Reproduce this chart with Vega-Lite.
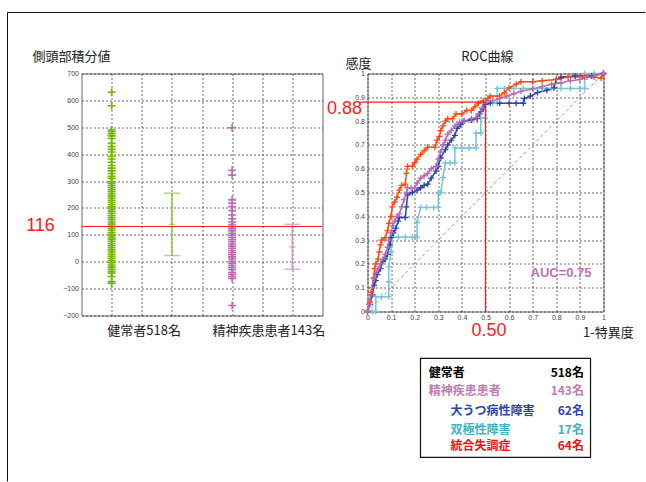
{
  "$schema": "https://vega.github.io/schema/vega-lite/v6.json",
  "padding": {"left": 6.5, "top": 10.5, "right": 0, "bottom": 0},
  "background": "white",
  "spacing": 45,
  "bounds": "flush",
  "resolve": {"scale": {"color": "independent"}},
  "config": {
    "view": {"stroke": "#666", "strokeWidth": 1},
    "axis": {"grid": true, "title": null, "gridColor": "#333", "gridDash": [2, 2], "gridOpacity": 0.9, "gridWidth": 0.8, "labelFont": "Liberation Sans", "labelFontSize": 7, "labelColor": "#444", "domain": false, "ticks": false, "labelPadding": 3, "labelOverlap": false, "labelFlush": false}
  },
  "datasets": {
    "scatter": [
      {"g":"H","x":1,"v":-80},{"g":"H","x":1,"v":-74},{"g":"H","x":1,"v":-55},{"g":"H","x":1,"v":-42},{"g":"H","x":1,"v":-36},{"g":"H","x":1,"v":-28},{"g":"H","x":1,"v":-20},{"g":"H","x":1,"v":-12},{"g":"H","x":1,"v":-4},{"g":"H","x":1,"v":4},{"g":"H","x":1,"v":12},{"g":"H","x":1,"v":20},{"g":"H","x":1,"v":28},{"g":"H","x":1,"v":36},{"g":"H","x":1,"v":44},{"g":"H","x":1,"v":52},{"g":"H","x":1,"v":60},{"g":"H","x":1,"v":68},{"g":"H","x":1,"v":76},{"g":"H","x":1,"v":84},{"g":"H","x":1,"v":92},{"g":"H","x":1,"v":100},{"g":"H","x":1,"v":108},{"g":"H","x":1,"v":116},{"g":"H","x":1,"v":124},{"g":"H","x":1,"v":132},{"g":"H","x":1,"v":140},{"g":"H","x":1,"v":148},{"g":"H","x":1,"v":156},{"g":"H","x":1,"v":164},{"g":"H","x":1,"v":172},{"g":"H","x":1,"v":180},{"g":"H","x":1,"v":188},{"g":"H","x":1,"v":196},{"g":"H","x":1,"v":204},{"g":"H","x":1,"v":212},{"g":"H","x":1,"v":220},{"g":"H","x":1,"v":228},{"g":"H","x":1,"v":236},{"g":"H","x":1,"v":244},{"g":"H","x":1,"v":252},{"g":"H","x":1,"v":260},{"g":"H","x":1,"v":268},{"g":"H","x":1,"v":276},{"g":"H","x":1,"v":284},{"g":"H","x":1,"v":292},{"g":"H","x":1,"v":298},{"g":"H","x":1,"v":310},{"g":"H","x":1,"v":318},{"g":"H","x":1,"v":328},{"g":"H","x":1,"v":338},{"g":"H","x":1,"v":348},{"g":"H","x":1,"v":358},{"g":"H","x":1,"v":370},{"g":"H","x":1,"v":382},{"g":"H","x":1,"v":392},{"g":"H","x":1,"v":408},{"g":"H","x":1,"v":418},{"g":"H","x":1,"v":428},{"g":"H","x":1,"v":440},{"g":"H","x":1,"v":458},{"g":"H","x":1,"v":468},{"g":"H","x":1,"v":476},{"g":"H","x":1,"v":484},{"g":"H","x":1,"v":490},{"g":"H","x":1,"v":580},{"g":"H","x":1,"v":630},
      {"g":"P","x":5,"v":-163},{"g":"P","x":5,"v":-62},{"g":"P","x":5,"v":-55},{"g":"P","x":5,"v":-47},{"g":"P","x":5,"v":-40},{"g":"P","x":5,"v":-30},{"g":"P","x":5,"v":-22},{"g":"P","x":5,"v":-14},{"g":"P","x":5,"v":-6},{"g":"P","x":5,"v":2},{"g":"P","x":5,"v":10},{"g":"P","x":5,"v":18},{"g":"P","x":5,"v":26},{"g":"P","x":5,"v":34},{"g":"P","x":5,"v":42},{"g":"P","x":5,"v":50},{"g":"P","x":5,"v":58},{"g":"P","x":5,"v":66},{"g":"P","x":5,"v":74},{"g":"P","x":5,"v":82},{"g":"P","x":5,"v":90},{"g":"P","x":5,"v":98},{"g":"P","x":5,"v":106},{"g":"P","x":5,"v":114},{"g":"P","x":5,"v":122},{"g":"P","x":5,"v":130},{"g":"P","x":5,"v":138},{"g":"P","x":5,"v":148},{"g":"P","x":5,"v":160},{"g":"P","x":5,"v":174},{"g":"P","x":5,"v":190},{"g":"P","x":5,"v":205},{"g":"P","x":5,"v":218},{"g":"P","x":5,"v":230},{"g":"P","x":5,"v":322},{"g":"P","x":5,"v":340},{"g":"P","x":5,"v":498}
    ],
    "errbars": [
      {"g":"Hb","x":3,"lo":23,"mid":139,"hi":255},
      {"g":"Pb","x":7,"lo":-28,"mid":55,"hi":139}
    ],
    "legend": [
      {"t": "健常者", "n": "518名", "k": "h"},
      {"t": "精神疾患患者", "n": "143名", "k": "p"},
      {"t": "大うつ病性障害", "n": "62名", "k": "d"},
      {"t": "双極性障害", "n": "17名", "k": "b"},
      {"t": "統合失調症", "n": "64名", "k": "s"}
    ],
    "roc": [
      {"s":"C","x":0,"y":0},{"s":"C","x":0.02,"y":0},{"s":"C","x":0.035,"y":0},{"s":"C","x":0.035,"y":0.0625},{"s":"C","x":0.06,"y":0.0625},{"s":"C","x":0.09,"y":0.0625},{"s":"C","x":0.09,"y":0.125},{"s":"C","x":0.09,"y":0.1875},{"s":"C","x":0.1,"y":0.25},{"s":"C","x":0.1,"y":0.3125},{"s":"C","x":0.13,"y":0.3125},{"s":"C","x":0.16,"y":0.3125},{"s":"C","x":0.19,"y":0.3125},{"s":"C","x":0.21,"y":0.3125},{"s":"C","x":0.21,"y":0.375},{"s":"C","x":0.225,"y":0.4375},{"s":"C","x":0.25,"y":0.4375},{"s":"C","x":0.28,"y":0.4375},{"s":"C","x":0.3,"y":0.4375},{"s":"C","x":0.3,"y":0.5},{"s":"C","x":0.31,"y":0.5},{"s":"C","x":0.32,"y":0.5625},{"s":"C","x":0.33,"y":0.625},{"s":"C","x":0.35,"y":0.625},{"s":"C","x":0.37,"y":0.625},{"s":"C","x":0.37,"y":0.6875},{"s":"C","x":0.4,"y":0.6875},{"s":"C","x":0.43,"y":0.6875},{"s":"C","x":0.46,"y":0.6875},{"s":"C","x":0.46,"y":0.75},{"s":"C","x":0.48,"y":0.75},{"s":"C","x":0.48,"y":0.8125},{"s":"C","x":0.5,"y":0.8125},{"s":"C","x":0.5,"y":0.875},{"s":"C","x":0.53,"y":0.875},{"s":"C","x":0.55,"y":0.875},{"s":"C","x":0.55,"y":0.9375},{"s":"C","x":0.58,"y":0.9375},{"s":"C","x":0.62,"y":0.9375},{"s":"C","x":0.66,"y":0.9375},{"s":"C","x":0.7,"y":0.9375},{"s":"C","x":0.74,"y":0.9375},{"s":"C","x":0.78,"y":0.9375},{"s":"C","x":0.82,"y":0.9375},{"s":"C","x":0.86,"y":0.9375},{"s":"C","x":0.9,"y":0.9375},{"s":"C","x":0.92,"y":0.9375},{"s":"C","x":0.92,"y":1},{"s":"C","x":0.96,"y":1},{"s":"C","x":1,"y":1},
      {"s":"D","x":0,"y":0},{"s":"D","x":0.01,"y":0.03},{"s":"D","x":0.02,"y":0.07},{"s":"D","x":0.028,"y":0.11},{"s":"D","x":0.035,"y":0.13},{"s":"D","x":0.042,"y":0.155},{"s":"D","x":0.055,"y":0.18},{"s":"D","x":0.065,"y":0.21},{"s":"D","x":0.075,"y":0.22},{"s":"D","x":0.085,"y":0.24},{"s":"D","x":0.095,"y":0.28},{"s":"D","x":0.1,"y":0.31},{"s":"D","x":0.11,"y":0.33},{"s":"D","x":0.12,"y":0.35},{"s":"D","x":0.13,"y":0.38},{"s":"D","x":0.135,"y":0.395},{"s":"D","x":0.16,"y":0.395},{"s":"D","x":0.165,"y":0.44},{"s":"D","x":0.17,"y":0.49},{"s":"D","x":0.19,"y":0.5},{"s":"D","x":0.21,"y":0.51},{"s":"D","x":0.225,"y":0.52},{"s":"D","x":0.24,"y":0.53},{"s":"D","x":0.255,"y":0.535},{"s":"D","x":0.27,"y":0.56},{"s":"D","x":0.29,"y":0.59},{"s":"D","x":0.3,"y":0.61},{"s":"D","x":0.31,"y":0.645},{"s":"D","x":0.33,"y":0.68},{"s":"D","x":0.34,"y":0.7},{"s":"D","x":0.355,"y":0.72},{"s":"D","x":0.37,"y":0.74},{"s":"D","x":0.38,"y":0.77},{"s":"D","x":0.395,"y":0.785},{"s":"D","x":0.41,"y":0.8},{"s":"D","x":0.44,"y":0.805},{"s":"D","x":0.465,"y":0.81},{"s":"D","x":0.475,"y":0.83},{"s":"D","x":0.49,"y":0.85},{"s":"D","x":0.5,"y":0.87},{"s":"D","x":0.52,"y":0.875},{"s":"D","x":0.56,"y":0.875},{"s":"D","x":0.6,"y":0.875},{"s":"D","x":0.63,"y":0.875},{"s":"D","x":0.66,"y":0.875},{"s":"D","x":0.665,"y":0.895},{"s":"D","x":0.69,"y":0.905},{"s":"D","x":0.72,"y":0.92},{"s":"D","x":0.76,"y":0.93},{"s":"D","x":0.79,"y":0.94},{"s":"D","x":0.8,"y":0.975},{"s":"D","x":0.82,"y":0.985},{"s":"D","x":0.88,"y":0.99},{"s":"D","x":0.95,"y":0.99},{"s":"D","x":1,"y":1},
      {"s":"S","x":0,"y":0},{"s":"S","x":0.01,"y":0.04},{"s":"S","x":0.015,"y":0.08},{"s":"S","x":0.02,"y":0.1},{"s":"S","x":0.025,"y":0.14},{"s":"S","x":0.03,"y":0.18},{"s":"S","x":0.035,"y":0.2},{"s":"S","x":0.045,"y":0.22},{"s":"S","x":0.05,"y":0.25},{"s":"S","x":0.055,"y":0.28},{"s":"S","x":0.06,"y":0.3},{"s":"S","x":0.075,"y":0.31},{"s":"S","x":0.085,"y":0.34},{"s":"S","x":0.09,"y":0.37},{"s":"S","x":0.1,"y":0.4},{"s":"S","x":0.105,"y":0.44},{"s":"S","x":0.115,"y":0.46},{"s":"S","x":0.125,"y":0.48},{"s":"S","x":0.135,"y":0.51},{"s":"S","x":0.145,"y":0.53},{"s":"S","x":0.16,"y":0.535},{"s":"S","x":0.165,"y":0.58},{"s":"S","x":0.17,"y":0.61},{"s":"S","x":0.19,"y":0.61},{"s":"S","x":0.2,"y":0.625},{"s":"S","x":0.21,"y":0.64},{"s":"S","x":0.225,"y":0.66},{"s":"S","x":0.24,"y":0.675},{"s":"S","x":0.255,"y":0.69},{"s":"S","x":0.285,"y":0.69},{"s":"S","x":0.295,"y":0.72},{"s":"S","x":0.305,"y":0.735},{"s":"S","x":0.31,"y":0.76},{"s":"S","x":0.32,"y":0.78},{"s":"S","x":0.33,"y":0.8},{"s":"S","x":0.34,"y":0.81},{"s":"S","x":0.36,"y":0.81},{"s":"S","x":0.375,"y":0.83},{"s":"S","x":0.4,"y":0.83},{"s":"S","x":0.42,"y":0.845},{"s":"S","x":0.44,"y":0.845},{"s":"S","x":0.455,"y":0.86},{"s":"S","x":0.47,"y":0.875},{"s":"S","x":0.49,"y":0.885},{"s":"S","x":0.51,"y":0.895},{"s":"S","x":0.52,"y":0.905},{"s":"S","x":0.56,"y":0.905},{"s":"S","x":0.58,"y":0.92},{"s":"S","x":0.6,"y":0.94},{"s":"S","x":0.63,"y":0.955},{"s":"S","x":0.65,"y":0.965},{"s":"S","x":0.7,"y":0.965},{"s":"S","x":0.74,"y":0.97},{"s":"S","x":0.8,"y":0.975},{"s":"S","x":0.85,"y":0.985},{"s":"S","x":0.92,"y":0.985},{"s":"S","x":0.96,"y":0.985},{"s":"S","x":0.99,"y":0.98},{"s":"S","x":1,"y":1},
      {"s":"A","x":0,"y":0},{"s":"A","x":0.007,"y":0.03},{"s":"A","x":0.014,"y":0.07},{"s":"A","x":0.02,"y":0.1},{"s":"A","x":0.028,"y":0.14},{"s":"A","x":0.035,"y":0.16},{"s":"A","x":0.045,"y":0.18},{"s":"A","x":0.055,"y":0.2},{"s":"A","x":0.065,"y":0.22},{"s":"A","x":0.075,"y":0.24},{"s":"A","x":0.085,"y":0.27},{"s":"A","x":0.09,"y":0.3},{"s":"A","x":0.1,"y":0.33},{"s":"A","x":0.107,"y":0.36},{"s":"A","x":0.115,"y":0.38},{"s":"A","x":0.125,"y":0.4},{"s":"A","x":0.135,"y":0.41},{"s":"A","x":0.145,"y":0.44},{"s":"A","x":0.155,"y":0.47},{"s":"A","x":0.165,"y":0.5},{"s":"A","x":0.17,"y":0.52},{"s":"A","x":0.185,"y":0.52},{"s":"A","x":0.2,"y":0.52},{"s":"A","x":0.21,"y":0.54},{"s":"A","x":0.225,"y":0.56},{"s":"A","x":0.24,"y":0.57},{"s":"A","x":0.255,"y":0.58},{"s":"A","x":0.27,"y":0.6},{"s":"A","x":0.29,"y":0.61},{"s":"A","x":0.3,"y":0.64},{"s":"A","x":0.31,"y":0.67},{"s":"A","x":0.32,"y":0.7},{"s":"A","x":0.33,"y":0.72},{"s":"A","x":0.34,"y":0.745},{"s":"A","x":0.355,"y":0.76},{"s":"A","x":0.37,"y":0.78},{"s":"A","x":0.39,"y":0.795},{"s":"A","x":0.41,"y":0.8},{"s":"A","x":0.44,"y":0.81},{"s":"A","x":0.46,"y":0.815},{"s":"A","x":0.47,"y":0.83},{"s":"A","x":0.485,"y":0.855},{"s":"A","x":0.5,"y":0.885},{"s":"A","x":0.53,"y":0.885},{"s":"A","x":0.56,"y":0.895},{"s":"A","x":0.59,"y":0.905},{"s":"A","x":0.62,"y":0.915},{"s":"A","x":0.65,"y":0.925},{"s":"A","x":0.7,"y":0.935},{"s":"A","x":0.74,"y":0.945},{"s":"A","x":0.78,"y":0.955},{"s":"A","x":0.82,"y":0.96},{"s":"A","x":0.86,"y":0.97},{"s":"A","x":0.9,"y":0.975},{"s":"A","x":0.93,"y":0.985},{"s":"A","x":0.96,"y":0.99},{"s":"A","x":1,"y":1}
    ]
  },
  "hconcat": [
    {
      "width": 241,
      "height": 242,
      "data": {"values": [{}]},
      "layer": [
        {
          "data": {"name": "scatter"},
          "mark": {"type": "point", "shape": "M-1,0L1,0M0,-1L0,1", "filled": false, "size": 64, "strokeWidth": 1.6, "opacity": 1},
          "encoding": {
            "x": {"field": "x", "type": "quantitative", "scale": {"domain": [0, 8], "nice": false, "zero": false}, "axis": {"values": [1,2,3,4,5,6,7], "labels": false, "grid": true, "title": null}},
            "y": {"field": "v", "type": "quantitative", "scale": {"domain": [-200, 700], "nice": false, "zero": false}, "axis": {"values": [-200,-100,0,100,200,300,400,500,600,700], "format": "d", "grid": true, "title": null}},
            "color": {"field": "g", "type": "nominal", "scale": {"domain": ["H","P","Hb","Pb"], "range": ["#74b800","#bd6db2","#8ec63f","#cc92c6"]}, "legend": null}
          }
        },
        {
          "data": {"name": "errbars"},
          "mark": {"type": "rule", "strokeWidth": 1.5},
          "encoding": {
            "x": {"field": "x", "type": "quantitative", "scale": {"domain": [0, 8], "nice": false, "zero": false}, "axis": {"values": [1,2,3,4,5,6,7], "labels": false, "grid": true, "title": null}},
            "y": {"field": "lo", "type": "quantitative", "scale": {"domain": [-200, 700], "nice": false, "zero": false}, "axis": {"values": [-200,-100,0,100,200,300,400,500,600,700], "format": "d", "grid": true, "title": null}},
            "y2": {"field": "hi"},
            "color": {"field": "g", "type": "nominal", "scale": {"domain": ["H","P","Hb","Pb"], "range": ["#74b800","#bd6db2","#8ec63f","#cc92c6"]}, "legend": null}
          }
        },
        {
          "data": {"name": "errbars"},
          "mark": {"type": "tick", "orient": "horizontal", "size": 16, "thickness": 1.5},
          "encoding": {
            "x": {"field": "x", "type": "quantitative", "scale": {"domain": [0, 8], "nice": false, "zero": false}, "axis": {"values": [1,2,3,4,5,6,7], "labels": false, "grid": true, "title": null}},
            "y": {"field": "lo", "type": "quantitative", "scale": {"domain": [-200, 700], "nice": false, "zero": false}, "axis": {"values": [-200,-100,0,100,200,300,400,500,600,700], "format": "d", "grid": true, "title": null}},
            "color": {"field": "g", "type": "nominal", "scale": {"domain": ["H","P","Hb","Pb"], "range": ["#74b800","#bd6db2","#8ec63f","#cc92c6"]}, "legend": null}
          }
        },
        {
          "data": {"name": "errbars"},
          "mark": {"type": "tick", "orient": "horizontal", "size": 16, "thickness": 1.5},
          "encoding": {
            "x": {"field": "x", "type": "quantitative", "scale": {"domain": [0, 8], "nice": false, "zero": false}, "axis": {"values": [1,2,3,4,5,6,7], "labels": false, "grid": true, "title": null}},
            "y": {"field": "hi", "type": "quantitative", "scale": {"domain": [-200, 700], "nice": false, "zero": false}, "axis": {"values": [-200,-100,0,100,200,300,400,500,600,700], "format": "d", "grid": true, "title": null}},
            "color": {"field": "g", "type": "nominal", "scale": {"domain": ["H","P","Hb","Pb"], "range": ["#74b800","#bd6db2","#8ec63f","#cc92c6"]}, "legend": null}
          }
        },
        {
          "data": {"name": "errbars"},
          "mark": {"type": "tick", "orient": "horizontal", "size": 7, "thickness": 1.2},
          "encoding": {
            "x": {"field": "x", "type": "quantitative", "scale": {"domain": [0, 8], "nice": false, "zero": false}, "axis": {"values": [1,2,3,4,5,6,7], "labels": false, "grid": true, "title": null}},
            "y": {"field": "mid", "type": "quantitative", "scale": {"domain": [-200, 700], "nice": false, "zero": false}, "axis": {"values": [-200,-100,0,100,200,300,400,500,600,700], "format": "d", "grid": true, "title": null}},
            "color": {"field": "g", "type": "nominal", "scale": {"domain": ["H","P","Hb","Pb"], "range": ["#74b800","#bd6db2","#8ec63f","#cc92c6"]}, "legend": null}
          }
        },
        {
          "mark": {"type": "rule", "color": "#ff2020", "strokeWidth": 1.2},
          "encoding": {
            "x": {"datum": 0, "type": "quantitative", "scale": {"domain": [0, 8], "nice": false, "zero": false}, "axis": {"values": [1,2,3,4,5,6,7], "labels": false, "grid": true, "title": null}},
            "x2": {"datum": 8},
            "y": {"datum": 131, "type": "quantitative", "scale": {"domain": [-200, 700], "nice": false, "zero": false}, "axis": {"values": [-200,-100,0,100,200,300,400,500,600,700], "format": "d", "grid": true, "title": null}}
          }
        },
        {
          "mark": {"type": "text", "color": "#ff1a1a", "font": "Liberation Sans", "fontSize": 18, "align": "center", "baseline": "middle"},
          "encoding": {
            "x": {"datum": -1.36, "type": "quantitative", "scale": {"domain": [0, 8], "nice": false, "zero": false}, "axis": {"values": [1,2,3,4,5,6,7], "labels": false, "grid": true, "title": null}},
            "y": {"datum": 131, "type": "quantitative", "scale": {"domain": [-200, 700], "nice": false, "zero": false}, "axis": {"values": [-200,-100,0,100,200,300,400,500,600,700], "format": "d", "grid": true, "title": null}},
            "text": {"value": "116"}
          }
        },
        {
          "mark": {"type": "text", "color": "#222", "font": "Noto Sans CJK JP", "fontSize": 13, "align": "left", "baseline": "middle"},
          "encoding": {
            "x": {"datum": -1.63, "type": "quantitative", "scale": {"domain": [0, 8], "nice": false, "zero": false}, "axis": {"values": [1,2,3,4,5,6,7], "labels": false, "grid": true, "title": null}},
            "y": {"datum": 763, "type": "quantitative", "scale": {"domain": [-200, 700], "nice": false, "zero": false}, "axis": {"values": [-200,-100,0,100,200,300,400,500,600,700], "format": "d", "grid": true, "title": null}},
            "text": {"value": "側頭部積分値"}
          }
        },
        {
          "mark": {"type": "text", "color": "#222", "font": "Noto Sans CJK JP", "fontSize": 13, "align": "center", "baseline": "middle"},
          "encoding": {
            "x": {"datum": 2.08, "type": "quantitative", "scale": {"domain": [0, 8], "nice": false, "zero": false}, "axis": {"values": [1,2,3,4,5,6,7], "labels": false, "grid": true, "title": null}},
            "y": {"datum": -259, "type": "quantitative", "scale": {"domain": [-200, 700], "nice": false, "zero": false}, "axis": {"values": [-200,-100,0,100,200,300,400,500,600,700], "format": "d", "grid": true, "title": null}},
            "text": {"value": "健常者518名"}
          }
        },
        {
          "mark": {"type": "text", "color": "#222", "font": "Noto Sans CJK JP", "fontSize": 13, "align": "center", "baseline": "middle"},
          "encoding": {
            "x": {"datum": 6.22, "type": "quantitative", "scale": {"domain": [0, 8], "nice": false, "zero": false}, "axis": {"values": [1,2,3,4,5,6,7], "labels": false, "grid": true, "title": null}},
            "y": {"datum": -259, "type": "quantitative", "scale": {"domain": [-200, 700], "nice": false, "zero": false}, "axis": {"values": [-200,-100,0,100,200,300,400,500,600,700], "format": "d", "grid": true, "title": null}},
            "text": {"value": "精神疾患患者143名"}
          }
        },
        {
          "mark": {"type": "rule", "color": "#111", "strokeWidth": 1},
          "encoding": {
            "x": {"datum": -2.456, "type": "quantitative", "scale": {"domain": [0, 8], "nice": false, "zero": false}, "axis": {"values": [1,2,3,4,5,6,7], "labels": false, "grid": true, "title": null}},
            "y": {"datum": 926.9, "type": "quantitative", "scale": {"domain": [-200, 700], "nice": false, "zero": false}, "axis": {"values": [-200,-100,0,100,200,300,400,500,600,700], "format": "d", "grid": true, "title": null}},
            "y2": {"datum": -817}
          }
        },
        {
          "mark": {"type": "rule", "color": "#111", "strokeWidth": 1},
          "encoding": {
            "x": {"datum": -2.456, "type": "quantitative", "scale": {"domain": [0, 8], "nice": false, "zero": false}, "axis": {"values": [1,2,3,4,5,6,7], "labels": false, "grid": true, "title": null}},
            "x2": {"datum": 18.72},
            "y": {"datum": 926.9, "type": "quantitative", "scale": {"domain": [-200, 700], "nice": false, "zero": false}, "axis": {"values": [-200,-100,0,100,200,300,400,500,600,700], "format": "d", "grid": true, "title": null}}
          }
        }
      ]
    },
    {
      "width": 236,
      "height": 238,
      "data": {"values": [{}]},
      "layer": [
        {
          "data": {"name": "roc"},
          "mark": {"type": "line", "strokeWidth": 1.5, "point": {"shape": "M-1,0L1,0M0,-1L0,1", "filled": false, "size": 36, "strokeWidth": 1.3}},
          "encoding": {
            "x": {"field": "x", "type": "quantitative", "scale": {"domain": [0, 1], "nice": false, "zero": false}, "axis": {"values": [0,0.1,0.2,0.3,0.4,0.5,0.6,0.7,0.8,0.9,1], "grid": true, "title": null, "labelPadding": 2, "labelExpr": "datum.value == 0 ? '0' : datum.value == 1 ? '1' : format(datum.value, '.1f')"}},
            "y": {"field": "y", "type": "quantitative", "scale": {"domain": [0, 1], "nice": false, "zero": false}, "axis": {"values": [0,0.1,0.2,0.3,0.4,0.5,0.6,0.7,0.8,0.9,1], "grid": true, "title": null, "labelExpr": "datum.value == 0 ? '0' : datum.value == 1 ? '1' : format(datum.value, '.1f')"}},
            "color": {"field": "s", "type": "nominal", "scale": {"domain": ["C","D","S","A"], "range": ["#74c6d8","#2b46a8","#ff4a16","#b46cb4"]}, "legend": null},
            "order": {"value": null}
          }
        },
        {
          "mark": {"type": "rule", "color": "#999", "strokeWidth": 1, "strokeDash": [3, 3]},
          "encoding": {
            "x": {"datum": 0, "type": "quantitative", "scale": {"domain": [0, 1], "nice": false, "zero": false}, "axis": {"values": [0,0.1,0.2,0.3,0.4,0.5,0.6,0.7,0.8,0.9,1], "grid": true, "title": null, "labelPadding": 2, "labelExpr": "datum.value == 0 ? '0' : datum.value == 1 ? '1' : format(datum.value, '.1f')"}},
            "x2": {"datum": 1},
            "y": {"datum": 0, "type": "quantitative", "scale": {"domain": [0, 1], "nice": false, "zero": false}, "axis": {"values": [0,0.1,0.2,0.3,0.4,0.5,0.6,0.7,0.8,0.9,1], "grid": true, "title": null, "labelExpr": "datum.value == 0 ? '0' : datum.value == 1 ? '1' : format(datum.value, '.1f')"}},
            "y2": {"datum": 1}
          }
        },
        {
          "mark": {"type": "rule", "color": "#ff1a1a", "strokeWidth": 1.2},
          "encoding": {
            "x": {"datum": -0.03, "type": "quantitative", "scale": {"domain": [0, 1], "nice": false, "zero": false}, "axis": {"values": [0,0.1,0.2,0.3,0.4,0.5,0.6,0.7,0.8,0.9,1], "grid": true, "title": null, "labelPadding": 2, "labelExpr": "datum.value == 0 ? '0' : datum.value == 1 ? '1' : format(datum.value, '.1f')"}},
            "x2": {"datum": 0.5},
            "y": {"datum": 0.88, "type": "quantitative", "scale": {"domain": [0, 1], "nice": false, "zero": false}, "axis": {"values": [0,0.1,0.2,0.3,0.4,0.5,0.6,0.7,0.8,0.9,1], "grid": true, "title": null, "labelExpr": "datum.value == 0 ? '0' : datum.value == 1 ? '1' : format(datum.value, '.1f')"}}
          }
        },
        {
          "mark": {"type": "rule", "color": "#ff1a1a", "strokeWidth": 1.2},
          "encoding": {
            "x": {"datum": 0.5, "type": "quantitative", "scale": {"domain": [0, 1], "nice": false, "zero": false}, "axis": {"values": [0,0.1,0.2,0.3,0.4,0.5,0.6,0.7,0.8,0.9,1], "grid": true, "title": null, "labelPadding": 2, "labelExpr": "datum.value == 0 ? '0' : datum.value == 1 ? '1' : format(datum.value, '.1f')"}},
            "y": {"datum": 0, "type": "quantitative", "scale": {"domain": [0, 1], "nice": false, "zero": false}, "axis": {"values": [0,0.1,0.2,0.3,0.4,0.5,0.6,0.7,0.8,0.9,1], "grid": true, "title": null, "labelExpr": "datum.value == 0 ? '0' : datum.value == 1 ? '1' : format(datum.value, '.1f')"}},
            "y2": {"datum": 0.88}
          }
        },
        {
          "mark": {"type": "text", "color": "#ff1a1a", "font": "Liberation Sans", "fontSize": 18, "align": "center", "baseline": "middle"},
          "encoding": {
            "x": {"datum": -0.097, "type": "quantitative", "scale": {"domain": [0, 1], "nice": false, "zero": false}, "axis": {"values": [0,0.1,0.2,0.3,0.4,0.5,0.6,0.7,0.8,0.9,1], "grid": true, "title": null, "labelPadding": 2, "labelExpr": "datum.value == 0 ? '0' : datum.value == 1 ? '1' : format(datum.value, '.1f')"}},
            "y": {"datum": 0.852, "type": "quantitative", "scale": {"domain": [0, 1], "nice": false, "zero": false}, "axis": {"values": [0,0.1,0.2,0.3,0.4,0.5,0.6,0.7,0.8,0.9,1], "grid": true, "title": null, "labelExpr": "datum.value == 0 ? '0' : datum.value == 1 ? '1' : format(datum.value, '.1f')"}},
            "text": {"value": "0.88"}
          }
        },
        {
          "mark": {"type": "text", "color": "#ff1a1a", "font": "Liberation Sans", "fontSize": 18, "align": "center", "baseline": "middle"},
          "encoding": {
            "x": {"datum": 0.515, "type": "quantitative", "scale": {"domain": [0, 1], "nice": false, "zero": false}, "axis": {"values": [0,0.1,0.2,0.3,0.4,0.5,0.6,0.7,0.8,0.9,1], "grid": true, "title": null, "labelPadding": 2, "labelExpr": "datum.value == 0 ? '0' : datum.value == 1 ? '1' : format(datum.value, '.1f')"}},
            "y": {"datum": -0.08, "type": "quantitative", "scale": {"domain": [0, 1], "nice": false, "zero": false}, "axis": {"values": [0,0.1,0.2,0.3,0.4,0.5,0.6,0.7,0.8,0.9,1], "grid": true, "title": null, "labelExpr": "datum.value == 0 ? '0' : datum.value == 1 ? '1' : format(datum.value, '.1f')"}},
            "text": {"value": "0.50"}
          }
        },
        {
          "mark": {"type": "text", "color": "#c070b8", "font": "Liberation Sans", "fontWeight": "bold", "fontSize": 13, "align": "center", "baseline": "middle"},
          "encoding": {
            "x": {"datum": 0.82, "type": "quantitative", "scale": {"domain": [0, 1], "nice": false, "zero": false}, "axis": {"values": [0,0.1,0.2,0.3,0.4,0.5,0.6,0.7,0.8,0.9,1], "grid": true, "title": null, "labelPadding": 2, "labelExpr": "datum.value == 0 ? '0' : datum.value == 1 ? '1' : format(datum.value, '.1f')"}},
            "y": {"datum": 0.16, "type": "quantitative", "scale": {"domain": [0, 1], "nice": false, "zero": false}, "axis": {"values": [0,0.1,0.2,0.3,0.4,0.5,0.6,0.7,0.8,0.9,1], "grid": true, "title": null, "labelExpr": "datum.value == 0 ? '0' : datum.value == 1 ? '1' : format(datum.value, '.1f')"}},
            "text": {"value": "AUC=0.75"}
          }
        },
        {
          "mark": {"type": "text", "color": "#222", "font": "Noto Sans CJK JP", "fontSize": 13, "align": "center", "baseline": "middle"},
          "encoding": {
            "x": {"datum": 0.508, "type": "quantitative", "scale": {"domain": [0, 1], "nice": false, "zero": false}, "axis": {"values": [0,0.1,0.2,0.3,0.4,0.5,0.6,0.7,0.8,0.9,1], "grid": true, "title": null, "labelPadding": 2, "labelExpr": "datum.value == 0 ? '0' : datum.value == 1 ? '1' : format(datum.value, '.1f')"}},
            "y": {"datum": 1.071, "type": "quantitative", "scale": {"domain": [0, 1], "nice": false, "zero": false}, "axis": {"values": [0,0.1,0.2,0.3,0.4,0.5,0.6,0.7,0.8,0.9,1], "grid": true, "title": null, "labelExpr": "datum.value == 0 ? '0' : datum.value == 1 ? '1' : format(datum.value, '.1f')"}},
            "text": {"value": "ROC曲線"}
          }
        },
        {
          "mark": {"type": "text", "color": "#222", "font": "Noto Sans CJK JP", "fontSize": 13, "align": "center", "baseline": "middle"},
          "encoding": {
            "x": {"datum": -0.038, "type": "quantitative", "scale": {"domain": [0, 1], "nice": false, "zero": false}, "axis": {"values": [0,0.1,0.2,0.3,0.4,0.5,0.6,0.7,0.8,0.9,1], "grid": true, "title": null, "labelPadding": 2, "labelExpr": "datum.value == 0 ? '0' : datum.value == 1 ? '1' : format(datum.value, '.1f')"}},
            "y": {"datum": 1.042, "type": "quantitative", "scale": {"domain": [0, 1], "nice": false, "zero": false}, "axis": {"values": [0,0.1,0.2,0.3,0.4,0.5,0.6,0.7,0.8,0.9,1], "grid": true, "title": null, "labelExpr": "datum.value == 0 ? '0' : datum.value == 1 ? '1' : format(datum.value, '.1f')"}},
            "text": {"value": "感度"}
          }
        },
        {
          "mark": {"type": "text", "color": "#222", "font": "Noto Sans CJK JP", "fontSize": 13, "align": "center", "baseline": "middle"},
          "encoding": {
            "x": {"datum": 1.021, "type": "quantitative", "scale": {"domain": [0, 1], "nice": false, "zero": false}, "axis": {"values": [0,0.1,0.2,0.3,0.4,0.5,0.6,0.7,0.8,0.9,1], "grid": true, "title": null, "labelPadding": 2, "labelExpr": "datum.value == 0 ? '0' : datum.value == 1 ? '1' : format(datum.value, '.1f')"}},
            "y": {"datum": -0.092, "type": "quantitative", "scale": {"domain": [0, 1], "nice": false, "zero": false}, "axis": {"values": [0,0.1,0.2,0.3,0.4,0.5,0.6,0.7,0.8,0.9,1], "grid": true, "title": null, "labelExpr": "datum.value == 0 ? '0' : datum.value == 1 ? '1' : format(datum.value, '.1f')"}},
            "text": {"value": "1-特異度"}
          }
        },
        {
          "mark": {"type": "rect", "fill": "white", "stroke": "#111", "strokeWidth": 1.2},
          "encoding": {
            "x": {"datum": 0.2246, "type": "quantitative", "scale": {"domain": [0, 1], "nice": false, "zero": false}, "axis": {"values": [0,0.1,0.2,0.3,0.4,0.5,0.6,0.7,0.8,0.9,1], "grid": true, "title": null, "labelPadding": 2, "labelExpr": "datum.value == 0 ? '0' : datum.value == 1 ? '1' : format(datum.value, '.1f')"}},
            "x2": {"datum": 0.945},
            "y": {"datum": -0.197, "type": "quantitative", "scale": {"domain": [0, 1], "nice": false, "zero": false}, "axis": {"values": [0,0.1,0.2,0.3,0.4,0.5,0.6,0.7,0.8,0.9,1], "grid": true, "title": null, "labelExpr": "datum.value == 0 ? '0' : datum.value == 1 ? '1' : format(datum.value, '.1f')"}},
            "y2": {"datum": -0.613}
          }
        },
        {"data": {"name": "legend"}, "transform": [{"filter": "datum.k == 'h'"}], "mark": {"type": "text", "color": "#000", "font": "Noto Sans CJK JP", "fontWeight": "bold", "fontSize": 12, "align": "left", "baseline": "middle"}, "encoding": {"x": {"datum": 0.26, "type": "quantitative", "scale": {"domain": [0, 1], "nice": false, "zero": false}, "axis": {"values": [0,0.1,0.2,0.3,0.4,0.5,0.6,0.7,0.8,0.9,1], "grid": true, "title": null, "labelPadding": 2, "labelExpr": "datum.value == 0 ? '0' : datum.value == 1 ? '1' : format(datum.value, '.1f')"}}, "y": {"datum": -0.259, "type": "quantitative", "scale": {"domain": [0, 1], "nice": false, "zero": false}, "axis": {"values": [0,0.1,0.2,0.3,0.4,0.5,0.6,0.7,0.8,0.9,1], "grid": true, "title": null, "labelExpr": "datum.value == 0 ? '0' : datum.value == 1 ? '1' : format(datum.value, '.1f')"}}, "text": {"field": "t"}}},
        {"data": {"name": "legend"}, "transform": [{"filter": "datum.k == 'h'"}], "mark": {"type": "text", "color": "#000", "font": "Noto Sans CJK JP", "fontWeight": "bold", "fontSize": 12, "align": "right", "baseline": "middle"}, "encoding": {"x": {"datum": 0.917, "type": "quantitative", "scale": {"domain": [0, 1], "nice": false, "zero": false}, "axis": {"values": [0,0.1,0.2,0.3,0.4,0.5,0.6,0.7,0.8,0.9,1], "grid": true, "title": null, "labelPadding": 2, "labelExpr": "datum.value == 0 ? '0' : datum.value == 1 ? '1' : format(datum.value, '.1f')"}}, "y": {"datum": -0.259, "type": "quantitative", "scale": {"domain": [0, 1], "nice": false, "zero": false}, "axis": {"values": [0,0.1,0.2,0.3,0.4,0.5,0.6,0.7,0.8,0.9,1], "grid": true, "title": null, "labelExpr": "datum.value == 0 ? '0' : datum.value == 1 ? '1' : format(datum.value, '.1f')"}}, "text": {"field": "n"}}},
        {"data": {"name": "legend"}, "transform": [{"filter": "datum.k == 'p'"}], "mark": {"type": "text", "color": "#c27ab8", "font": "Noto Sans CJK JP", "fontWeight": "bold", "fontSize": 12, "align": "left", "baseline": "middle"}, "encoding": {"x": {"datum": 0.26, "type": "quantitative", "scale": {"domain": [0, 1], "nice": false, "zero": false}, "axis": {"values": [0,0.1,0.2,0.3,0.4,0.5,0.6,0.7,0.8,0.9,1], "grid": true, "title": null, "labelPadding": 2, "labelExpr": "datum.value == 0 ? '0' : datum.value == 1 ? '1' : format(datum.value, '.1f')"}}, "y": {"datum": -0.332, "type": "quantitative", "scale": {"domain": [0, 1], "nice": false, "zero": false}, "axis": {"values": [0,0.1,0.2,0.3,0.4,0.5,0.6,0.7,0.8,0.9,1], "grid": true, "title": null, "labelExpr": "datum.value == 0 ? '0' : datum.value == 1 ? '1' : format(datum.value, '.1f')"}}, "text": {"field": "t"}}},
        {"data": {"name": "legend"}, "transform": [{"filter": "datum.k == 'p'"}], "mark": {"type": "text", "color": "#c27ab8", "font": "Noto Sans CJK JP", "fontWeight": "bold", "fontSize": 12, "align": "right", "baseline": "middle"}, "encoding": {"x": {"datum": 0.917, "type": "quantitative", "scale": {"domain": [0, 1], "nice": false, "zero": false}, "axis": {"values": [0,0.1,0.2,0.3,0.4,0.5,0.6,0.7,0.8,0.9,1], "grid": true, "title": null, "labelPadding": 2, "labelExpr": "datum.value == 0 ? '0' : datum.value == 1 ? '1' : format(datum.value, '.1f')"}}, "y": {"datum": -0.332, "type": "quantitative", "scale": {"domain": [0, 1], "nice": false, "zero": false}, "axis": {"values": [0,0.1,0.2,0.3,0.4,0.5,0.6,0.7,0.8,0.9,1], "grid": true, "title": null, "labelExpr": "datum.value == 0 ? '0' : datum.value == 1 ? '1' : format(datum.value, '.1f')"}}, "text": {"field": "n"}}},
        {"data": {"name": "legend"}, "transform": [{"filter": "datum.k == 'd'"}], "mark": {"type": "text", "color": "#2b46a8", "font": "Noto Sans CJK JP", "fontWeight": "bold", "fontSize": 12, "align": "left", "baseline": "middle"}, "encoding": {"x": {"datum": 0.352, "type": "quantitative", "scale": {"domain": [0, 1], "nice": false, "zero": false}, "axis": {"values": [0,0.1,0.2,0.3,0.4,0.5,0.6,0.7,0.8,0.9,1], "grid": true, "title": null, "labelPadding": 2, "labelExpr": "datum.value == 0 ? '0' : datum.value == 1 ? '1' : format(datum.value, '.1f')"}}, "y": {"datum": -0.42, "type": "quantitative", "scale": {"domain": [0, 1], "nice": false, "zero": false}, "axis": {"values": [0,0.1,0.2,0.3,0.4,0.5,0.6,0.7,0.8,0.9,1], "grid": true, "title": null, "labelExpr": "datum.value == 0 ? '0' : datum.value == 1 ? '1' : format(datum.value, '.1f')"}}, "text": {"field": "t"}}},
        {"data": {"name": "legend"}, "transform": [{"filter": "datum.k == 'd'"}], "mark": {"type": "text", "color": "#2b46a8", "font": "Noto Sans CJK JP", "fontWeight": "bold", "fontSize": 12, "align": "right", "baseline": "middle"}, "encoding": {"x": {"datum": 0.917, "type": "quantitative", "scale": {"domain": [0, 1], "nice": false, "zero": false}, "axis": {"values": [0,0.1,0.2,0.3,0.4,0.5,0.6,0.7,0.8,0.9,1], "grid": true, "title": null, "labelPadding": 2, "labelExpr": "datum.value == 0 ? '0' : datum.value == 1 ? '1' : format(datum.value, '.1f')"}}, "y": {"datum": -0.42, "type": "quantitative", "scale": {"domain": [0, 1], "nice": false, "zero": false}, "axis": {"values": [0,0.1,0.2,0.3,0.4,0.5,0.6,0.7,0.8,0.9,1], "grid": true, "title": null, "labelExpr": "datum.value == 0 ? '0' : datum.value == 1 ? '1' : format(datum.value, '.1f')"}}, "text": {"field": "n"}}},
        {"data": {"name": "legend"}, "transform": [{"filter": "datum.k == 'b'"}], "mark": {"type": "text", "color": "#3cb2c4", "font": "Noto Sans CJK JP", "fontWeight": "bold", "fontSize": 12, "align": "left", "baseline": "middle"}, "encoding": {"x": {"datum": 0.352, "type": "quantitative", "scale": {"domain": [0, 1], "nice": false, "zero": false}, "axis": {"values": [0,0.1,0.2,0.3,0.4,0.5,0.6,0.7,0.8,0.9,1], "grid": true, "title": null, "labelPadding": 2, "labelExpr": "datum.value == 0 ? '0' : datum.value == 1 ? '1' : format(datum.value, '.1f')"}}, "y": {"datum": -0.496, "type": "quantitative", "scale": {"domain": [0, 1], "nice": false, "zero": false}, "axis": {"values": [0,0.1,0.2,0.3,0.4,0.5,0.6,0.7,0.8,0.9,1], "grid": true, "title": null, "labelExpr": "datum.value == 0 ? '0' : datum.value == 1 ? '1' : format(datum.value, '.1f')"}}, "text": {"field": "t"}}},
        {"data": {"name": "legend"}, "transform": [{"filter": "datum.k == 'b'"}], "mark": {"type": "text", "color": "#3cb2c4", "font": "Noto Sans CJK JP", "fontWeight": "bold", "fontSize": 12, "align": "right", "baseline": "middle"}, "encoding": {"x": {"datum": 0.917, "type": "quantitative", "scale": {"domain": [0, 1], "nice": false, "zero": false}, "axis": {"values": [0,0.1,0.2,0.3,0.4,0.5,0.6,0.7,0.8,0.9,1], "grid": true, "title": null, "labelPadding": 2, "labelExpr": "datum.value == 0 ? '0' : datum.value == 1 ? '1' : format(datum.value, '.1f')"}}, "y": {"datum": -0.496, "type": "quantitative", "scale": {"domain": [0, 1], "nice": false, "zero": false}, "axis": {"values": [0,0.1,0.2,0.3,0.4,0.5,0.6,0.7,0.8,0.9,1], "grid": true, "title": null, "labelExpr": "datum.value == 0 ? '0' : datum.value == 1 ? '1' : format(datum.value, '.1f')"}}, "text": {"field": "n"}}},
        {"data": {"name": "legend"}, "transform": [{"filter": "datum.k == 's'"}], "mark": {"type": "text", "color": "#ee1111", "font": "Noto Sans CJK JP", "fontWeight": "bold", "fontSize": 12, "align": "left", "baseline": "middle"}, "encoding": {"x": {"datum": 0.352, "type": "quantitative", "scale": {"domain": [0, 1], "nice": false, "zero": false}, "axis": {"values": [0,0.1,0.2,0.3,0.4,0.5,0.6,0.7,0.8,0.9,1], "grid": true, "title": null, "labelPadding": 2, "labelExpr": "datum.value == 0 ? '0' : datum.value == 1 ? '1' : format(datum.value, '.1f')"}}, "y": {"datum": -0.567, "type": "quantitative", "scale": {"domain": [0, 1], "nice": false, "zero": false}, "axis": {"values": [0,0.1,0.2,0.3,0.4,0.5,0.6,0.7,0.8,0.9,1], "grid": true, "title": null, "labelExpr": "datum.value == 0 ? '0' : datum.value == 1 ? '1' : format(datum.value, '.1f')"}}, "text": {"field": "t"}}},
        {"data": {"name": "legend"}, "transform": [{"filter": "datum.k == 's'"}], "mark": {"type": "text", "color": "#ee1111", "font": "Noto Sans CJK JP", "fontWeight": "bold", "fontSize": 12, "align": "right", "baseline": "middle"}, "encoding": {"x": {"datum": 0.917, "type": "quantitative", "scale": {"domain": [0, 1], "nice": false, "zero": false}, "axis": {"values": [0,0.1,0.2,0.3,0.4,0.5,0.6,0.7,0.8,0.9,1], "grid": true, "title": null, "labelPadding": 2, "labelExpr": "datum.value == 0 ? '0' : datum.value == 1 ? '1' : format(datum.value, '.1f')"}}, "y": {"datum": -0.567, "type": "quantitative", "scale": {"domain": [0, 1], "nice": false, "zero": false}, "axis": {"values": [0,0.1,0.2,0.3,0.4,0.5,0.6,0.7,0.8,0.9,1], "grid": true, "title": null, "labelExpr": "datum.value == 0 ? '0' : datum.value == 1 ? '1' : format(datum.value, '.1f')"}}, "text": {"field": "n"}}}
      ]
    }
  ]
}
